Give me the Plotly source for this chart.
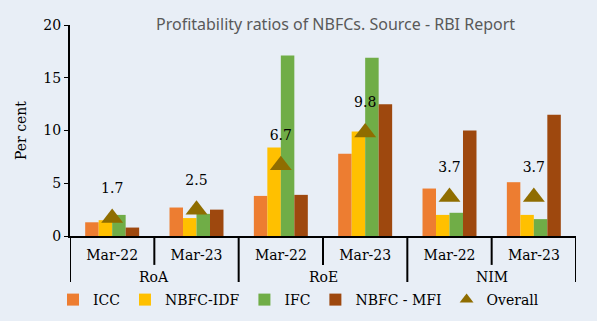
import plotly.graph_objects as go

groups = ["RoA", "RoA", "RoE", "RoE", "NIM", "NIM"]
periods = ["Mar-22", "Mar-23", "Mar-22", "Mar-23", "Mar-22", "Mar-23"]
icc = [1.3, 2.7, 3.8, 7.8, 4.5, 5.1]
nbfc_idf = [1.5, 1.7, 8.4, 9.9, 2.0, 2.0]
ifc = [2.0, 2.1, 17.1, 16.9, 2.2, 1.6]
nbfc_mfi = [0.8, 2.5, 3.9, 12.5, 10.0, 11.5]
overall = [1.7, 2.5, 6.7, 9.8, 3.7, 3.7]
overall_labels = ["1.7", "2.5", "6.7", "9.8", "3.7", "3.7"]

bg = "#E8EEF6"
serif = "DejaVu Serif"
xi = list(range(len(periods)))

fig = go.Figure()
for name, vals, col in [("ICC", icc, "#ED7D31"), ("NBFC-IDF", nbfc_idf, "#FFC000"),
                        ("IFC", ifc, "#70AD47"), ("NBFC - MFI", nbfc_mfi, "#9E480E")]:
    fig.add_trace(go.Bar(x=xi, y=vals, name=name, marker=dict(color=col, line=dict(width=0))))

fig.add_trace(go.Scatter(x=xi, y=overall, name="Overall", mode="markers",
                         marker=dict(symbol="triangle-up", size=19, color="#8F6D00")))
fig.add_trace(go.Scatter(x=xi, y=overall, mode="markers+text", text=overall_labels,
                         textposition="top center", showlegend=False, hoverinfo="skip",
                         marker=dict(size=33, color="rgba(0,0,0,0)"),
                         textfont=dict(family=serif, size=14, color="#000000")))

# group structure: separators and group labels derived from the category arrays
ann = []
start = 0
for i in range(1, len(groups) + 1):
    if i == len(groups) or groups[i] != groups[start]:
        ann.append(dict(text=groups[start], x=(start + i - 1) / 2, xref="x", yref="paper",
                        y=-0.194, yanchor="middle", showarrow=False,
                        font=dict(family=serif, size=14, color="#000000")))
        fig.add_shape(type="line", xref="x", yref="paper", x0=start - 0.5, x1=start - 0.5,
                      y0=0, y1=-0.218, line=dict(color="#000000", width=2))
        for j in range(start + 1, i):
            fig.add_shape(type="line", xref="x", yref="paper", x0=j - 0.5, x1=j - 0.5,
                          y0=0, y1=-0.137, line=dict(color="#000000", width=2))
        start = i
fig.add_shape(type="line", xref="x", yref="paper", x0=len(groups) - 0.5, x1=len(groups) - 0.5,
              y0=0, y1=-0.218, line=dict(color="#000000", width=2))

ann.append(dict(text="Profitability ratios of NBFCs. Source - RBI Report",
                xref="paper", yref="paper", x=(335 - 70) / 506, y=1.0 + 1 / 211,
                xanchor="center", yanchor="middle", showarrow=False,
                font=dict(family="Noto Sans", size=16, color="#595959")))

fig.update_layout(
    width=597, height=321,
    margin=dict(l=70, r=21, t=25, b=85, autoexpand=False),
    paper_bgcolor=bg, plot_bgcolor=bg,
    barmode="group", bargap=0.36, bargroupgap=0,
    font=dict(family=serif, size=14, color="#000000"),
    showlegend=True,
    legend=dict(orientation="h", x=0.5, xanchor="center", xref="container",
                y=1 - 300 / 321, yanchor="middle", yref="container",
                font=dict(family=serif, size=14), itemsizing="constant",
                bgcolor="rgba(0,0,0,0)", tracegroupgap=0),
    annotations=ann,
)
fig.update_xaxes(range=[-0.5, len(periods) - 0.5], tickvals=xi, ticktext=periods,
                 showline=True, linecolor="#000000", linewidth=2, automargin=False,
                 ticks="", ticklabelstandoff=5, tickfont=dict(family=serif, size=14),
                 showgrid=False, zeroline=False)
fig.update_yaxes(range=[0, 20], dtick=5, showline=True, linecolor="#000000", linewidth=2,
                 ticks="outside", ticklen=4, tickwidth=1, tickcolor="#000000", automargin=False,
                 showgrid=False, zeroline=False, tickfont=dict(family=serif, size=14),
                 title=dict(text="Per cent", font=dict(family=serif, size=14), standoff=13))

fig.write_html("out.html")
